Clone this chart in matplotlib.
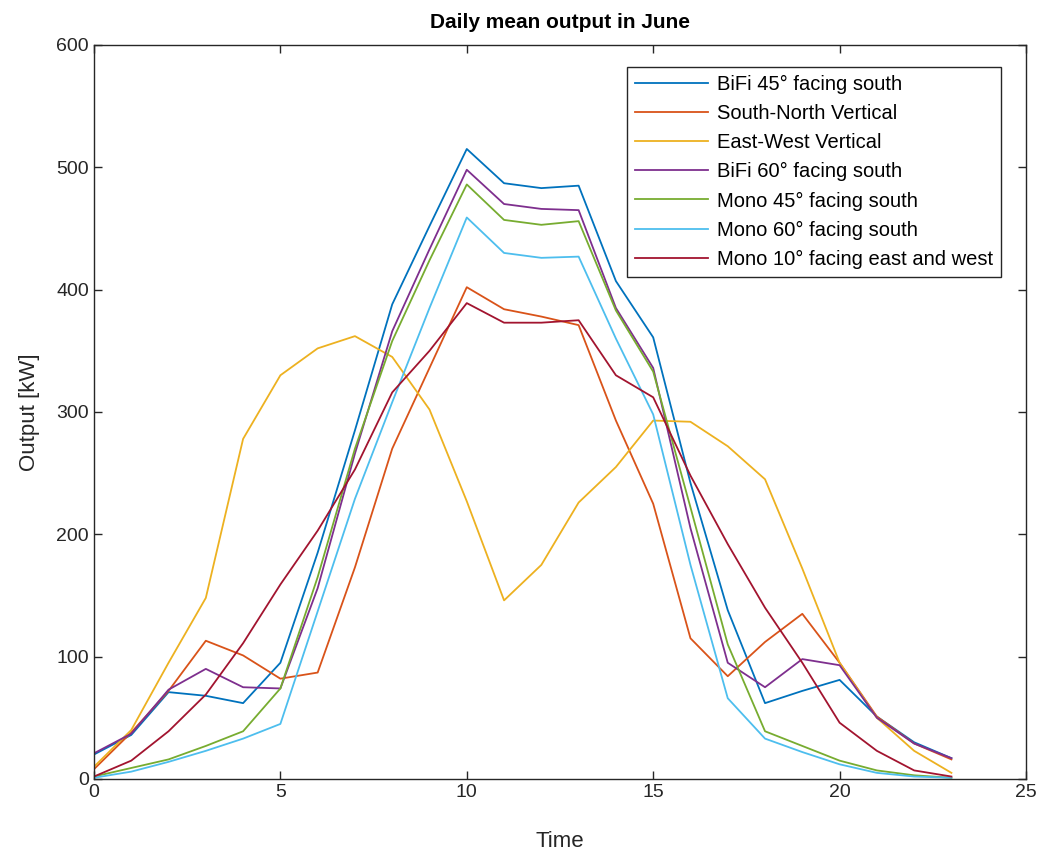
import matplotlib.pyplot as plt
import numpy as np

plt.rcParams['font.family'] = ['Liberation Sans', 'DejaVu Sans']

# hour of day
hours = np.arange(24)

# daily mean output [kW]
bifi45 = [20, 36, 71, 68, 62, 95, 185, 285, 388, 452, 515, 487, 483, 485, 407, 361, 242, 138, 62, 72, 81, 51, 30, 17]
sn_vert = [8, 38, 72, 113, 101, 82, 87, 173, 270, 336, 402, 384, 378, 371, 293, 225, 115, 84, 112, 135, 95, 51, 29, 16]
ew_vert = [10, 40, 95, 148, 278, 330, 352, 362, 345, 302, 227, 146, 175, 226, 255, 293, 292, 272, 245, 172, 95, 50, 23, 5]
bifi60 = [21, 37, 73, 90, 75, 74, 156, 266, 366, 433, 498, 470, 466, 465, 385, 336, 205, 95, 75, 98, 93, 50, 29, 17]
mono45 = [2, 9, 16, 27, 39, 74, 165, 270, 358, 424, 486, 457, 453, 456, 383, 333, 222, 110, 39, 27, 15, 7, 3, 1]
mono60 = [1, 6, 14, 23, 33, 45, 137, 229, 308, 385, 459, 430, 426, 427, 360, 298, 175, 66, 33, 22, 12, 5, 2, 1]
mono10 = [2, 15, 39, 69, 111, 159, 203, 253, 316, 350, 389, 373, 373, 375, 330, 312, 248, 192, 140, 95, 46, 23, 7, 2]

labels = ['BiFi 45\u00b0 facing south',
          'South-North Vertical',
          'East-West Vertical',
          'BiFi 60\u00b0 facing south',
          'Mono 45\u00b0 facing south',
          'Mono 60\u00b0 facing south',
          'Mono 10\u00b0 facing east and west']

# matlab default line colours
colors = ['#0072BD', '#D95319', '#EDB120', '#7E2F8E', '#77AC30', '#4DBEEE', '#A2142F']

series = [bifi45, sn_vert, ew_vert, bifi60, mono45, mono60, mono10]

fig = plt.figure(figsize=(10.43, 8.52), dpi=100)
ax = fig.add_axes([0.0901, 0.0857, 0.8936, 0.8615])

for y, lab, c in zip(series, labels, colors):
    ax.plot(hours, y, color=c, lw=1.3, label=lab)

ax.set_xlim(0, 25)
ax.set_ylim(0, 600)
ax.set_xticks(np.arange(0, 26, 5))
ax.set_yticks(np.arange(0, 601, 100))
ax.tick_params(direction='in', top=True, right=True, labelsize=14,
               length=6, width=1, colors='#262626', labelcolor='#262626')
for s in ax.spines.values():
    s.set_color('#262626')
    s.set_linewidth(1)

ax.set_xlabel('Time', fontsize=16, color='#262626', labelpad=22)
ax.set_ylabel('Output [kW]', fontsize=16, color='#262626', labelpad=12)
ax.set_title('Daily mean output in June', fontsize=15, fontweight='bold', pad=12)

leg = ax.legend(loc='upper right', bbox_to_anchor=(0.973, 0.970), borderaxespad=0,
                fontsize=14.5, fancybox=False, edgecolor='#262626', framealpha=1,
                handlelength=3.6, borderpad=0.4, labelspacing=0.5, handletextpad=0.45)
leg.get_frame().set_linewidth(1.0)

fig.savefig('out.png', dpi=100)
